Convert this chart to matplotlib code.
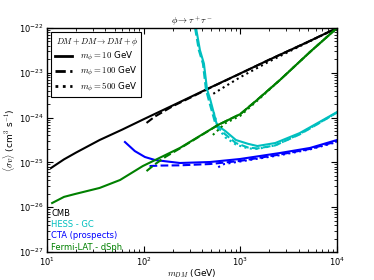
import numpy as np
import matplotlib
matplotlib.use('Agg')
import matplotlib.pyplot as plt

plt.rcParams['mathtext.fontset'] = 'cm'
plt.rcParams['font.family'] = 'DejaVu Sans'

# CMB (black)
cmb_m_10 = [11, 15, 20, 35, 60, 100, 200, 500, 1000, 2000, 5000, 10000]
cmb_sv_10 = [7.5e-26, 1.17e-25, 1.66e-25, 3.16e-25, 5.4e-25, 9.2e-25, 1.87e-24, 4.8e-24, 9.7e-24, 1.97e-23, 4.9e-23, 1e-22]
cmb_m_100 = [107, 130, 200, 300, 500, 1000, 2000, 5000, 10000]
cmb_sv_100 = [7.6e-25, 1.05e-24, 1.8e-24, 2.75e-24, 4.75e-24, 9.6e-24, 1.97e-23, 4.9e-23, 1e-22]
cmb_m_500 = [525, 700, 1000, 2000, 4000, 10000]
cmb_sv_500 = [3.4e-24, 5.0e-24, 8.0e-24, 1.8e-23, 3.8e-23, 1e-22]

# HESS - GC (cyan)
hess_m_10 = [348, 382, 420, 452, 490, 573, 700, 900, 1200, 1500, 2300, 4100, 6600, 10000]
hess_sv_10 = [1e-22, 3.2e-23, 1.6e-23, 4.3e-24, 2.46e-24, 6.8e-25, 5.0e-25, 3.16e-25, 2.6e-25, 2.32e-25, 2.71e-25, 4.5e-25, 8.0e-25, 1.33e-24]
hess_m_100 = [340, 372, 410, 440, 475, 560, 700, 900, 1200, 1500, 2300, 4100, 6600, 10000]
hess_sv_100 = [1e-22, 3.2e-23, 1.6e-23, 4.3e-24, 2.3e-24, 6.5e-25, 4.2e-25, 2.7e-25, 2.15e-25, 2.05e-25, 2.4e-25, 4.2e-25, 7.6e-25, 1.3e-24]
hess_m_500 = [530, 600, 700, 900, 1200, 1500, 2300, 4100, 6600, 10000]
hess_sv_500 = [1.3e-24, 5.5e-25, 3.6e-25, 2.5e-25, 2.05e-25, 2.0e-25, 2.4e-25, 4.3e-25, 7.7e-25, 1.3e-24]

# CTA prospects (blue)
cta_m_10 = [64, 81, 103, 131, 237, 485, 991, 2566, 5250, 10000]
cta_sv_10 = [2.85e-25, 1.79e-25, 1.32e-25, 1.13e-25, 9.7e-26, 1.02e-25, 1.19e-25, 1.62e-25, 2.1e-25, 3.16e-25]
cta_m_100 = [115, 150, 237, 485, 991, 2566, 5250, 10000]
cta_sv_100 = [8.3e-26, 8.5e-26, 8.6e-26, 9.2e-26, 1.08e-25, 1.5e-25, 2.0e-25, 2.95e-25]
cta_m_500 = [590, 680, 1000, 2566, 5250, 10000]
cta_sv_500 = [7.8e-26, 9.2e-26, 1.05e-25, 1.45e-25, 1.95e-25, 2.85e-25]

# Fermi-LAT dSph (green)
fermi_m_10 = [11.3, 15, 19.5, 35, 57, 98, 237, 586, 1000, 1486, 2566, 5250, 10000]
fermi_sv_10 = [1.24e-26, 1.7e-26, 1.97e-26, 2.69e-26, 4.05e-26, 8.3e-26, 2.1e-25, 6.84e-25, 1.2e-24, 2.47e-24, 6.9e-24, 2.91e-23, 1e-22]
fermi_m_100 = [107, 130, 170, 237, 586, 1000, 1486, 2566, 5250, 10000]
fermi_sv_100 = [6.4e-26, 9.0e-26, 1.35e-25, 2.05e-25, 6.8e-25, 1.2e-24, 2.47e-24, 6.9e-24, 2.91e-23, 1e-22]
fermi_m_500 = [520, 700, 1000, 1500, 2566, 5250, 10000]
fermi_sv_500 = [4.1e-25, 7.5e-25, 1.1e-24, 2.4e-24, 6.9e-24, 2.91e-23, 1e-22]

fig = plt.figure(figsize=(3.74, 2.8), dpi=100)
ax = fig.add_axes([0.1257, 0.1, 0.7754, 0.8])

lw = 1.5
sets = [
    ('k', cmb_m_10, cmb_sv_10, cmb_m_100, cmb_sv_100, cmb_m_500, cmb_sv_500),
    ('c', hess_m_10, hess_sv_10, hess_m_100, hess_sv_100, hess_m_500, hess_sv_500),
    ('b', cta_m_10, cta_sv_10, cta_m_100, cta_sv_100, cta_m_500, cta_sv_500),
    ('g', fermi_m_10, fermi_sv_10, fermi_m_100, fermi_sv_100, fermi_m_500, fermi_sv_500),
]
for col, m1, s1, m2, s2, m3, s3 in sets:
    ax.plot(m1, s1, '-', color=col, lw=lw)
    ax.plot(m2, s2, '--', color=col, lw=lw)
    ax.plot(m3, s3, ':', color=col, lw=lw)

# legend handles
h1, = ax.plot([], [], 'k-', lw=2, label=r'$m_\phi=10$ GeV')
h2, = ax.plot([], [], 'k--', lw=2, label=r'$m_\phi=100$ GeV')
h3, = ax.plot([], [], 'k:', lw=2, label=r'$m_\phi=500$ GeV')
leg = ax.legend(handles=[h1, h2, h3], loc='upper left', fontsize=6.3,
                title=r'$DM+DM\rightarrow DM+\phi$', title_fontsize=6,
                fancybox=False, framealpha=1, edgecolor='k',
                handlelength=2.0, borderaxespad=0.5, labelspacing=0.25,
                borderpad=0.4, handletextpad=0.9)
leg.get_frame().set_linewidth(0.8)

ax.set_xscale('log')
ax.set_yscale('log')
ax.set_xlim(10, 1e4)
ax.set_ylim(1e-27, 1e-22)

ax.tick_params(which='both', direction='in', top=True, right=True, labelsize=6, pad=2.5)
ax.tick_params(which='major', length=4)
ax.tick_params(which='minor', length=2)
for s in ax.spines.values():
    s.set_linewidth(1.0)

labels = ['CMB', 'HESS - GC', 'CTA (prospects)', 'Fermi-LAT - dSph']
label_cols = ['k', 'c', 'b', 'g']
label_y = [0.170, 0.122, 0.073, 0.022]
for t, c, yy in zip(labels, label_cols, label_y):
    ax.text(0.015, yy, t, color=c, fontsize=6, transform=ax.transAxes, va='center')

ax.set_title(r'$\phi\rightarrow\tau^+\tau^-$', fontsize=6.5, pad=3)
ax.set_xlabel(r'$m_{DM}$ (GeV)', fontsize=6.5, labelpad=0)
ax.set_ylabel(r'$\langle\sigma v\rangle$ (cm$^3$ s$^{-1}$)', fontsize=6.5, labelpad=1)

fig.savefig('out.png', dpi=100)
